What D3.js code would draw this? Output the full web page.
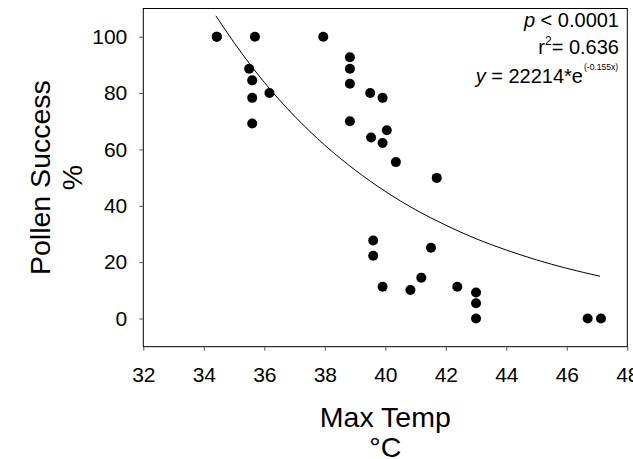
<!DOCTYPE html>
<html>
<head>
<meta charset="utf-8">
<script src="https://d3js.org/d3.v7.min.js"></script>
<style>
  body { margin: 0; background: #fff; }
  svg text { font-family: "Liberation Sans", Arial, sans-serif; fill: #000; }
</style>
</head>
<body>
<svg id="chart" width="633" height="459"></svg>
<script>
// max temp (°C) vs pollen success (%)
var maxTemp = [34.43, 34.43, 35.69, 37.95, 38.83, 38.83, 35.5, 35.6, 35.6, 36.17, 38.83,
               39.5, 39.91, 35.6, 38.83, 40.05, 39.53, 39.91, 40.35, 41.7, 39.6, 39.6,
               41.51, 39.91, 40.83, 41.19, 42.38, 43.0, 43.0, 43.0, 46.69, 47.13];
var pollenSuccess = [100, 100, 100, 100, 92.7, 88.6, 88.6, 84.5, 78.3, 80, 83.3,
                     80, 78.3, 69.2, 70, 66.8, 64.2, 62.3, 55.5, 49.9, 27.7, 22.3,
                     25.1, 11.3, 10.1, 14.5, 11.3, 9.2, 5.4, 0, 0, 0];

// fitted curve as drawn (y = 22214*e^(-0.155x))
var fitTemp = [34.4, 35, 36, 37, 38, 39, 40, 41, 42, 43, 44, 45, 46, 47.1];
var fitSuccess = [107.4, 97.9, 83.8, 71.8, 61.5, 52.7, 45.1, 38.6, 33.1, 28.3, 24.3, 20.8, 17.8, 15.0];

var xTicks = [32, 34, 36, 38, 40, 42, 44, 46, 48];
var yTicks = [0, 20, 40, 60, 80, 100];

var svg = d3.select("#chart");
var plotL = 143.3, plotR = 627.3, plotT = 8.5, plotB = 346.7;

var x = d3.scaleLinear().domain([32, 48]).range([plotL, plotR]);
var y = d3.scaleLinear().domain([-10, 110]).range([plotB, plotT]);

// frame
svg.append("rect")
    .attr("x", plotL).attr("y", plotT)
    .attr("width", plotR - plotL).attr("height", plotB - plotT)
    .attr("fill", "none").attr("stroke", "#000").attr("stroke-width", 1);

var xAxis = svg.append("g")
    .attr("transform", "translate(0," + plotB + ")")
    .call(d3.axisBottom(x).tickValues(xTicks).tickSize(4).tickSizeOuter(0).tickPadding(16).tickFormat(d3.format("d")));
var yAxis = svg.append("g")
    .attr("transform", "translate(" + plotL + ",0)")
    .call(d3.axisLeft(y).tickValues(yTicks).tickSize(4).tickSizeOuter(0).tickPadding(12).tickFormat(d3.format("d")));

[xAxis, yAxis].forEach(function(a){
    a.select(".domain").remove();
    a.selectAll(".tick line").attr("stroke", "#555");
    a.selectAll(".tick text").style("font-size", "21px").attr("fill", "#000");
});

// fit curve
var line = d3.line()
    .x(function(d){ return x(d[0]) })
    .y(function(d){ return y(d[1]) })
    .curve(d3.curveMonotoneX);
svg.append("path")
    .datum(d3.zip(fitTemp, fitSuccess))
    .attr("d", line)
    .attr("fill", "none")
    .attr("stroke", "#000")
    .attr("stroke-width", 1);

// points
svg.append("g").selectAll("circle")
    .data(d3.zip(maxTemp, pollenSuccess))
    .enter()
    .append("circle")
    .attr("cx", function(d){ return x(d[0]) })
    .attr("cy", function(d){ return y(d[1]) })
    .attr("r", 5)
    .attr("fill", "#000");

// axis titles
svg.append("text")
    .attr("x", (plotL + plotR) / 2).attr("y", 426.7)
    .attr("text-anchor", "middle").style("font-size", "28.5px")
    .text("Max Temp");
svg.append("text")
    .attr("x", (plotL + plotR) / 2).attr("y", 456.5)
    .attr("text-anchor", "middle").style("font-size", "28.5px")
    .text("°C");

var ymid = (plotT + plotB) / 2;
svg.append("text")
    .attr("transform", "translate(50," + ymid + ") rotate(-90)")
    .attr("text-anchor", "middle").style("font-size", "28.5px")
    .text("Pollen Success");
svg.append("text")
    .attr("transform", "translate(81.5," + ymid + ") rotate(-90)")
    .attr("text-anchor", "middle").style("font-size", "28.5px")
    .text("%");

// stats annotation
var ann = svg.append("g").style("font-size", "20px");
var t1 = ann.append("text").attr("x", 619).attr("y", 26.7).attr("text-anchor", "end");
t1.append("tspan").style("font-style", "italic").text("p");
t1.append("tspan").text(" < 0.0001");

var t2 = ann.append("text").attr("x", 619).attr("y", 54.3).attr("text-anchor", "end");
t2.append("tspan").text("r");
t2.append("tspan").attr("dy", -9).style("font-size", "12px").text("2");
t2.append("tspan").attr("dy", 9).text("= 0.636");

var t3 = ann.append("text").attr("x", 583).attr("y", 83.3).attr("text-anchor", "end");
t3.append("tspan").style("font-style", "italic").text("y");
t3.append("tspan").text(" = 22214*e");
ann.append("text").attr("x", 584).attr("y", 70).style("font-size", "8.5px").text("(-0.155x)");
</script>
</body>
</html>
